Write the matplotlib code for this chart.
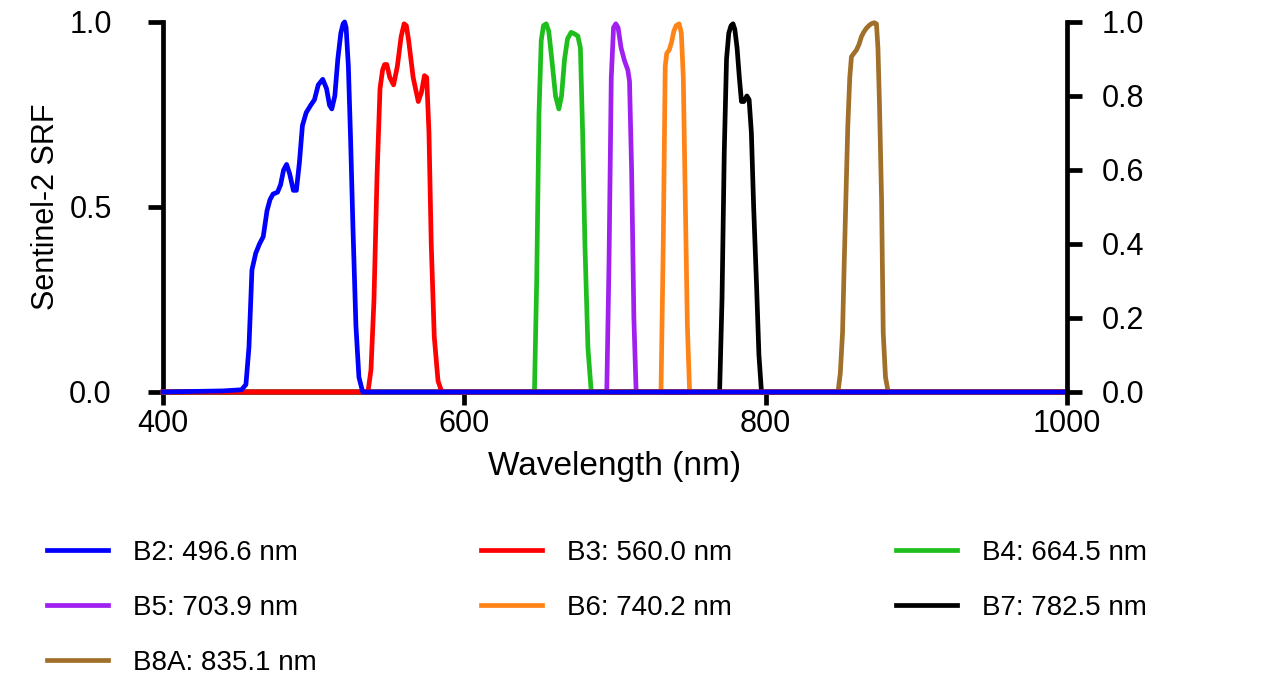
import numpy as np
import matplotlib.pyplot as plt

plt.rcParams['font.family'] = ['Liberation Sans', 'DejaVu Sans']

# Sentinel-2 spectral response functions, wavelength (nm) vs. normalised SRF
b2_nm = [400, 440, 452, 455, 457, 459, 461.5, 464, 466.5, 469, 471, 473, 476, 478, 480,
         482, 484, 486.5, 488.5, 490.5, 492.5, 495, 498, 500.5, 503, 506, 508.5, 510.5,
         512, 514, 516, 518, 519.5, 520.5, 521.5, 523, 524.5, 526, 528, 530, 532.5, 1000]
b2_srf = [0, 0.003, 0.006, 0.02, 0.12, 0.33, 0.375, 0.40, 0.42, 0.49, 0.52, 0.535, 0.54,
          0.56, 0.60, 0.615, 0.59, 0.545, 0.545, 0.62, 0.72, 0.755, 0.775, 0.79, 0.83,
          0.845, 0.82, 0.775, 0.765, 0.80, 0.90, 0.97, 0.995, 1.0, 0.985, 0.88, 0.68,
          0.45, 0.18, 0.04, 0, 0]

b3_nm = [400, 536, 538, 540, 542, 544, 545.7, 547, 548.5, 550.5, 553, 555.5, 558, 560,
         561.5, 563, 566, 569.4, 571.5, 573.5, 575, 576.5, 578, 580, 582.5, 585, 1000]
b3_srf = [0, 0, 0.06, 0.25, 0.58, 0.82, 0.87, 0.885, 0.885, 0.85, 0.83, 0.88, 0.96, 0.995,
          0.99, 0.95, 0.85, 0.785, 0.81, 0.855, 0.85, 0.70, 0.40, 0.15, 0.03, 0, 0]

b4_nm = [400, 646.5, 648, 649.5, 651, 652.5, 654.3, 656, 658, 660.5, 662.7, 664.5, 666.5,
         668.5, 670.9, 673, 675.3, 677, 678.5, 680, 682, 684.2, 1000]
b4_srf = [0, 0, 0.3, 0.75, 0.95, 0.99, 0.995, 0.975, 0.9, 0.80, 0.765, 0.80, 0.90, 0.955,
          0.972, 0.968, 0.962, 0.93, 0.70, 0.40, 0.12, 0, 0]

b5_nm = [400, 694.5, 696, 697.5, 699, 700.5, 702, 704, 706.3, 708.5, 709.6, 711, 712.5,
         714, 1000]
b5_srf = [0, 0, 0.35, 0.85, 0.985, 0.995, 0.985, 0.93, 0.895, 0.87, 0.84, 0.6, 0.2, 0, 0]

b6_nm = [400, 730.5, 732, 733.3, 734.3, 736, 737.5, 739, 740.5, 742.5, 744, 745.3, 746.5,
         748, 749.5, 1000]
b6_srf = [0, 0, 0.4, 0.88, 0.915, 0.925, 0.945, 0.975, 0.99, 0.995, 0.97, 0.85, 0.55,
          0.18, 0, 0]

b7_nm = [400, 769.4, 771, 772.5, 774, 775.5, 777, 778.3, 779.5, 781, 782.5, 783.9, 785.5,
         787.5, 789, 790.5, 792, 794, 795.5, 797.2, 1000]
b7_srf = [0, 0, 0.25, 0.65, 0.9, 0.97, 0.99, 0.995, 0.98, 0.93, 0.85, 0.785, 0.785, 0.80,
          0.79, 0.70, 0.50, 0.28, 0.10, 0, 0]

b8a_nm = [400, 848, 849.5, 851, 852, 853.2, 854.5, 855.8, 856.9, 858.5, 860.2, 862, 863.5,
          865, 866.8, 868.5, 870, 872, 873.5, 874.5, 875.5, 876.9, 878, 879.5, 881.3, 1000]
b8a_srf = [0, 0, 0.05, 0.16, 0.33, 0.52, 0.72, 0.85, 0.906, 0.915, 0.924, 0.94, 0.96,
           0.972, 0.983, 0.99, 0.995, 0.998, 0.995, 0.93, 0.78, 0.52, 0.16, 0.04, 0, 0]

band_labels = ['B2: 496.6 nm', 'B3: 560.0 nm', 'B4: 664.5 nm', 'B5: 703.9 nm',
               'B6: 740.2 nm', 'B7: 782.5 nm', 'B8A: 835.1 nm']
band_colors = ['#0000ff', '#ff0000', '#1ebe1e', '#a020f0', '#ff8418', '#000000', '#a06f2a']
# stacking: B2 on top, then B3, then the rest
band_z = [10, 9, 4, 5, 6, 7, 8]

bands = [(b2_nm, b2_srf), (b3_nm, b3_srf), (b4_nm, b4_srf), (b5_nm, b5_srf),
         (b6_nm, b6_srf), (b7_nm, b7_srf), (b8a_nm, b8a_srf)]

fig = plt.figure(figsize=(12.65, 6.74), dpi=100)
ax = fig.add_axes([0.1289, 0.4184, 0.7146, 0.549])

handles = []
for (nm, srf), lab, col, z in zip(bands, band_labels, band_colors, band_z):
    ln, = ax.plot(nm, srf, color=col, lw=3.4, label=lab, clip_on=False, zorder=z,
                  solid_joinstyle='round')
    handles.append(ln)

ax.set_xlim(400, 1000)
ax.set_ylim(0, 1)
ax.set_xticks([400, 600, 800, 1000])
ax.set_yticks([0, 0.5, 1.0])
ax.set_yticklabels(['0.0', '0.5', '1.0'])

for side in ['top', 'right']:
    ax.spines[side].set_visible(False)
for side in ['left', 'bottom']:
    ax.spines[side].set_linewidth(3.4)
    ax.spines[side].set_zorder(2)

ax.tick_params(axis='x', length=9, width=3.4, pad=3, labelsize=22)
ax.tick_params(axis='y', length=11, width=3.4, pad=26, labelsize=22)
ax.set_xlabel('Wavelength (nm)', fontsize=24, labelpad=9)
ax.set_ylabel('Sentinel-2 SRF', fontsize=22, labelpad=6)

# secondary scale on the right
ax2 = ax.twinx()
ax2.set_ylim(0, 1)
ax2.set_yticks([0, 0.2, 0.4, 0.6, 0.8, 1.0])
ax2.set_yticklabels(['0.0', '0.2', '0.4', '0.6', '0.8', '1.0'])
for side in ['top', 'left', 'bottom']:
    ax2.spines[side].set_visible(False)
ax2.spines['right'].set_linewidth(3.4)
ax2.tick_params(axis='y', length=11, width=3.4, pad=14, labelsize=22)

# legend fills column by column, so reorder to read row-wise
order = [0, 3, 6, 1, 4, 2, 5]
fig.legend([handles[i] for i in order], [band_labels[i] for i in order],
           loc='upper left', bbox_to_anchor=(0.022, 0.228), ncol=3, frameon=False,
           fontsize=20, handlelength=2.2, handletextpad=0.9, columnspacing=5.9,
           labelspacing=1.05, borderpad=0.2)

fig.savefig('out.png', dpi=100)
